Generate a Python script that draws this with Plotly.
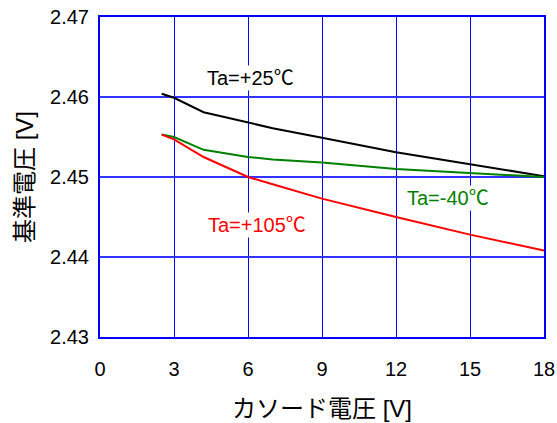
import plotly.graph_objects as go

x_vals = [2.5, 3, 4.2, 6, 7, 9, 12, 15, 18]
vref_25 = [2.4604, 2.4599, 2.4581, 2.4568, 2.4561, 2.4549, 2.4531, 2.4516, 2.4501]
vref_m40 = [2.4553, 2.4550, 2.4534, 2.4525, 2.4522, 2.4518, 2.4510, 2.4505, 2.4500]
vref_105 = [2.4553, 2.4547, 2.4525, 2.4500, 2.4491, 2.4473, 2.4450, 2.4428, 2.4408]

x_ticks = [0, 3, 6, 9, 12, 15, 18]
y_ticks = [2.43, 2.44, 2.45, 2.46, 2.47]

FONT = "Arial, Liberation Sans, Noto Sans CJK JP, sans-serif"

fig = go.Figure()
fig.add_trace(go.Scatter(x=x_vals, y=vref_25, mode="lines", line=dict(color="#000000", width=2), showlegend=False))
fig.add_trace(go.Scatter(x=x_vals, y=vref_m40, mode="lines", line=dict(color="#008000", width=2), showlegend=False))
fig.add_trace(go.Scatter(x=x_vals, y=vref_105, mode="lines", line=dict(color="#FF0000", width=2), showlegend=False))

annots = [
    dict(x=6.1, y=2.4624, text="Ta=+25℃", color="#000000"),
    dict(x=6.38, y=2.4440, text="Ta=+105℃", color="#FF0000"),
    dict(x=14.09, y=2.4474, text="Ta=-40℃", color="#008000"),
]
for a in annots:
    fig.add_annotation(x=a["x"], y=a["y"], text=a["text"], showarrow=False,
                       bgcolor="white", borderpad=1,
                       font=dict(family=FONT, size=20, color=a["color"]))

fig.update_layout(
    width=557, height=423,
    margin=dict(l=100, r=13, t=17, b=86),
    paper_bgcolor="white", plot_bgcolor="white",
    font=dict(family=FONT, size=20, color="#000000"),
)
fig.update_xaxes(
    range=[0, 18], tickvals=x_ticks, ticktext=[str(v) for v in x_ticks],
    showgrid=True, gridcolor="#0000FF", gridwidth=1,
    showline=True, linecolor="#0000FF", linewidth=2, mirror=True,
    ticks="", ticklabelstandoff=13, zeroline=False, automargin=False,
    ticklabeloverflow="allow",
    title=dict(text="カソード電圧 [V]", standoff=21),
)
fig.update_yaxes(
    range=[2.43, 2.47], tickvals=y_ticks, ticktext=[f"{v:.2f}" for v in y_ticks],
    showgrid=True, gridcolor="#3333FF", gridwidth=1.5,
    showline=True, linecolor="#0000FF", linewidth=2, mirror=True,
    ticks="", ticklabelstandoff=5, zeroline=False, automargin=False,
    ticklabeloverflow="allow",
    title=dict(text="基準電圧 [V]", standoff=10),
)

fig.write_html(
    "out.html",
    config={"displayModeBar": False},
    post_script=(
        "document.body.style.margin='0';"
        "document.body.style.overflow='hidden';"
        "document.documentElement.style.overflow='hidden';"
    ),
)
